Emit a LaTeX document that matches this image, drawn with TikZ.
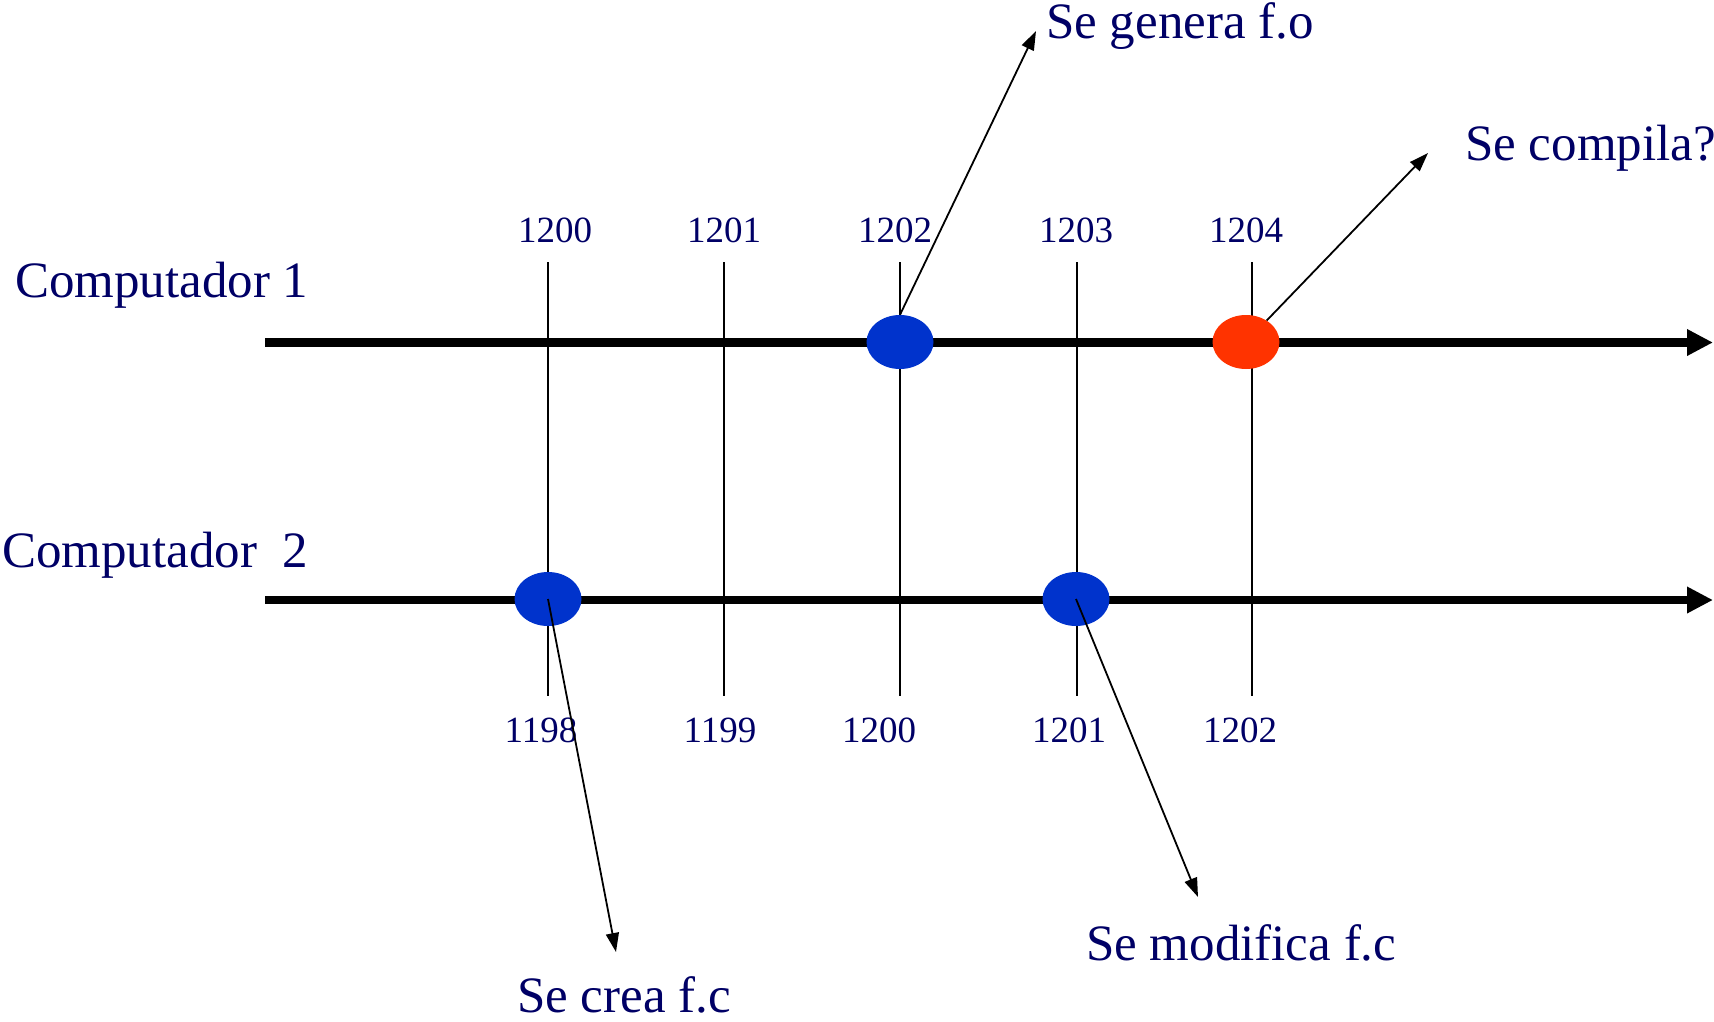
\documentclass[tikz,border=0pt]{standalone}
\usepackage{fontspec}
\setmainfont{Liberation Serif}
\usetikzlibrary{arrows.meta,shapes.geometric}
\definecolor{navy}{RGB}{0,0,102}
\definecolor{dotblue}{RGB}{0,51,204}
\definecolor{dotred}{RGB}{255,51,0}
\tikzset{
  biglabel/.style={text=navy,font=\fontsize{51}{60}\selectfont,inner sep=0pt,anchor=base west},
  numlabel/.style={text=navy,font=\fontsize{37}{42}\selectfont,inner sep=0pt,anchor=base},
  timeline/.style={line width=8.5pt,-{Triangle[length=26pt,width=25pt]}},
  tick/.style={line width=1.5pt},
  event/.style={ellipse,minimum width=67pt,minimum height=54pt,inner sep=0pt},
  callout/.style={line width=1.8pt,-{Triangle[length=19pt,width=13pt]}}
}
\begin{document}
\begin{tikzpicture}[x=1pt,y=-1pt]
\useasboundingbox (0,0) rectangle (1714,1021);
% labels
\node[biglabel] (comp1) at (15,297) {Computador 1};
\node[biglabel] (comp2) at (2,567) {Computador\ \ 2};
\node[biglabel] (genera) at (1046,38) {Se genera f.o};
\node[biglabel] (compila) at (1465,160) {Se compila?};
\node[biglabel] (crea) at (517,1012) {Se crea f.c};
\node[biglabel] (modifica) at (1086,960) {Se modifica f.c};
% top numbers
\node[numlabel] (t0) at (555,242) {1200};
\node[numlabel] (t1) at (724,242) {1201};
\node[numlabel] (t2) at (895,242) {1202};
\node[numlabel] (t3) at (1076,242) {1203};
\node[numlabel] (t4) at (1246,242) {1204};
% bottom numbers
\node[numlabel] (b0) at (541,742) {1198};
\node[numlabel] (b1) at (720,742) {1199};
\node[numlabel] (b2) at (879,742) {1200};
\node[numlabel] (b3) at (1069,742) {1201};
\node[numlabel] (b4) at (1240,742) {1202};
% tick lines
\coordinate (v0a) at (548,262); \coordinate (v0b) at (548,696);
\coordinate (v1a) at (724,262); \coordinate (v1b) at (724,696);
\coordinate (v2a) at (900,262); \coordinate (v2b) at (900,696);
\coordinate (v3a) at (1077,262); \coordinate (v3b) at (1077,696);
\coordinate (v4a) at (1252,262); \coordinate (v4b) at (1252,696);
\foreach \i in {0,...,4} { \draw[tick] (v\i a) -- (v\i b); }
% timelines
\coordinate (l1s) at (265,342.5); \coordinate (l1e) at (1713,342.5);
\coordinate (l2s) at (265,600); \coordinate (l2e) at (1713,600);
\draw[timeline] (l1s) -- (l1e);
\draw[timeline] (l2s) -- (l2e);
% events
\node[event,fill=dotblue] (e1) at (900,342) {};
\node[event,fill=dotred] (e2) at (1246,342) {};
\node[event,fill=dotblue] (e3) at (548,599) {};
\node[event,fill=dotblue] (e4) at (1076,599) {};
% callout tips
\coordinate (p1) at (1036,31);
\coordinate (p2) at (1428,153);
\coordinate (p3) at (616,952);
\coordinate (p4) at (1198,897);
\draw[callout] (e1.north) -- (p1);
\draw[callout] (e2) -- (p2);
\draw[callout] (e3.center) -- (p3);
\draw[callout] (e4.center) -- (p4);
\end{tikzpicture}
\end{document}
